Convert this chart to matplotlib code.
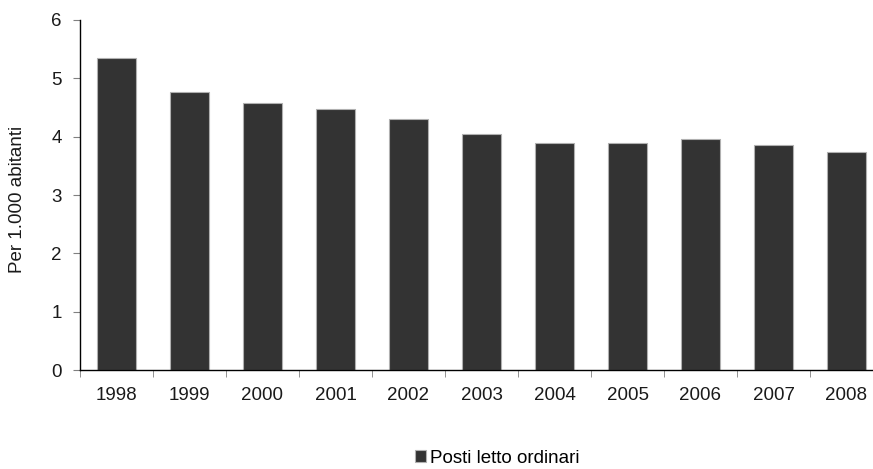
import matplotlib
matplotlib.use('Agg')
import matplotlib.pyplot as plt
from matplotlib.ticker import FixedLocator

YEARS = ['1998', '1999', '2000', '2001', '2002', '2003',
         '2004', '2005', '2006', '2007', '2008']
POSTI_LETTO = [5.34, 4.77, 4.57, 4.47, 4.31, 4.04,
               3.89, 3.89, 3.96, 3.86, 3.74]

plt.rcParams['font.family'] = ['Liberation Sans', 'DejaVu Sans']
FS = 13.5


def main():
    fig = plt.figure(figsize=(8.73, 4.69), dpi=100)
    ax = fig.add_axes([80 / 873, 1 - 370 / 469, 803 / 873, 350 / 469])
    x = list(range(len(YEARS)))
    ax.bar(x, POSTI_LETTO, width=0.53, color='#333333',
           edgecolor='#b0b0b0', lw=0.8, label='Posti letto ordinari')
    ax.set_xlim(-0.5, len(YEARS) - 0.5)
    ax.set_ylim(0, 6)
    ax.set_yticks(range(7))
    ax.set_xticks(x)
    ax.set_xticklabels(YEARS)
    ax.xaxis.set_minor_locator(FixedLocator([i - 0.5 for i in range(len(YEARS) + 1)]))
    ax.tick_params(axis='x', which='major', length=0, pad=12,
                   labelsize=FS, colors='#1a1a1a')
    ax.tick_params(axis='x', which='minor', length=5, color='#808080')
    ax.tick_params(axis='y', length=5, color='#808080', pad=8,
                   labelsize=FS, labelcolor='#1a1a1a')
    ax.spines[['top', 'right']].set_visible(False)
    ax.spines['left'].set_linewidth(1.0)
    ax.spines['bottom'].set_linewidth(1.0)
    ax.set_ylabel('Per 1.000 abitanti', fontsize=FS, color='#1a1a1a')
    ax.yaxis.set_label_coords(-0.067, 0.486)
    fig.legend(loc='center', bbox_to_anchor=(497 / 873, 1 - 458 / 469),
               frameon=False, fontsize=FS, handlelength=0.6,
               handleheight=0.6, handletextpad=0.2)
    fig.savefig('out.png', dpi=100)


if __name__ == '__main__':
    main()
